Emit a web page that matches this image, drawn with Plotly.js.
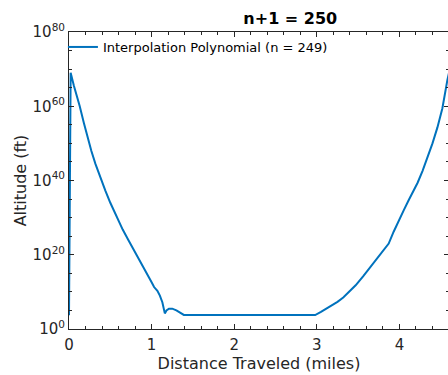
<!DOCTYPE html>
<html>
<head>
<meta charset="utf-8">
<script src="https://cdn.plot.ly/plotly-3.0.1.min.js"></script>
<style>
html,body{margin:0;padding:0;overflow:hidden;background:#fff;}
#chart{width:450px;height:375px;}
</style>
</head>
<body>
<div id="chart"></div>
<script>
// Distance traveled (miles)
const distance = [0, 0.02, 0.06, 0.10, 0.13, 0.18, 0.22, 0.27, 0.32, 0.38, 0.44, 0.50, 0.58, 0.65, 0.72, 0.80, 0.86, 0.94, 1.00, 1.03, 1.07, 1.10, 1.13, 1.16, 1.18, 1.21, 1.25, 1.30, 1.35, 1.39, 2.0, 2.5, 2.98, 3.05, 3.16, 3.25, 3.32, 3.40, 3.47, 3.56, 3.65, 3.76, 3.87, 3.93, 3.99, 4.05, 4.11, 4.17, 4.22, 4.28, 4.34, 4.40, 4.46, 4.52, 4.58, 4.62];
// Interpolation polynomial altitude (ft)
const altitude = [5e3, 1e69, 3e65, 3e62, 1e60, 3e55, 1e52, 1e48, 3e44, 6e40, 2e37, 1e34, 1.3e30, 6e26, 8e23, 6e20, 3e18, 1.6e15, 4e12, 2e11, 2e10, 1e9, 1.6e7, 1.6e4, 1e5, 3e5, 3e5, 1e5, 2e4, 6e3, 5.5e3, 5.5e3, 5.5e3, 4e4, 1e6, 2e7, 3e8, 1.3e10, 6e11, 1.6e14, 5e16, 6e19, 1e23, 1.6e26, 2e29, 8e31, 4e34, 1e37, 2.5e39, 4e42, 1.6e46, 1e50, 2e54, 3e59, 1e67, 1e71];

const majorTicks = [1, 1e20, 1e40, 1e60, 1e80];
const majorLabels = ['10<sup>0</sup>', '10<sup>20</sup>', '10<sup>40</sup>', '10<sup>60</sup>', '10<sup>80</sup>'];
const minorTicks = [1e5,1e10,1e15,1e25,1e30,1e35,1e45,1e50,1e55,1e65,1e70,1e75];

const axColor = '#262626';
const trace = {
  x: distance, y: altitude, type: 'scatter', mode: 'lines',
  name: 'Interpolation Polynomial (n = 249)',
  line: {color: '#0072BD', width: 2}
};
const layout = {
  width: 450, height: 375,
  margin: {l: 69, r: 1, t: 32, b: 46},
  paper_bgcolor: '#fff', plot_bgcolor: '#fff',
  font: {family: 'DejaVu Sans', color: axColor},
  title: {text: '<b>n+1 = 250</b>', x: 289/448, xref: 'container', xanchor: 'center', y: 0.951, yref: 'container', yanchor: 'middle', font: {size: 16, color: '#000'}},
  showlegend: true,
  legend: {x: -0.016, y: 1, xanchor: 'left', yanchor: 'top', bgcolor: 'rgba(255,255,255,0)', font: {size: 13, color: '#000'}},
  xaxis: {
    range: [0, 4.6], showgrid: false, zeroline: false,
    showline: true, linecolor: axColor, linewidth: 1, mirror: 'ticks',
    ticks: 'inside', ticklen: 5, tickcolor: axColor, dtick: 1, tick0: 0,
    ticklabelstandoff: 2,
    tickfont: {size: 15, color: axColor},
    minor: {dtick: 0.2, ticks: 'inside', ticklen: 3, tickcolor: axColor, showgrid: false},
    title: {text: 'Distance Traveled (miles)', font: {size: 16, color: axColor}, standoff: 3}
  },
  yaxis: {
    type: 'log', range: [0, 80], showgrid: false, zeroline: false,
    showline: true, linecolor: axColor, linewidth: 1, mirror: 'ticks',
    ticks: 'inside', ticklen: 5, tickcolor: axColor,
    tickmode: 'array', tickvals: majorTicks, ticktext: majorLabels,
    tickfont: {size: 15, color: axColor},
    minor: {tickmode: 'array', tickvals: minorTicks, ticks: 'inside', ticklen: 3, tickcolor: axColor, showgrid: false},
    title: {text: 'Altitude (ft)', font: {size: 16, color: axColor}, standoff: 1}
  }
};
Plotly.newPlot('chart', [trace], layout, {displayModeBar: false, staticPlot: true});
</script>
</body>
</html>
